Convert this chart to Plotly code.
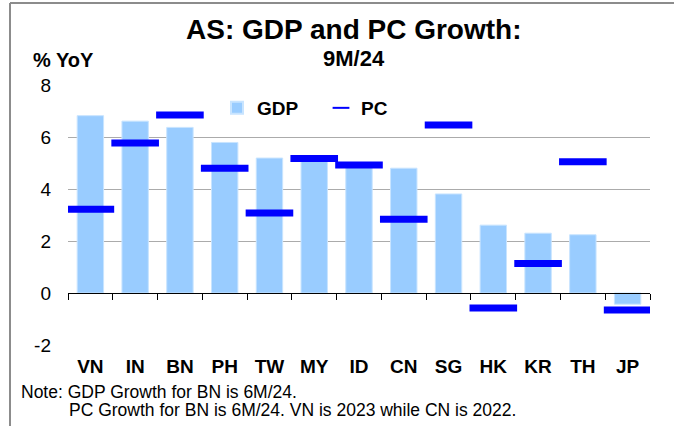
import plotly.graph_objects as go

categories = ["VN", "IN", "BN", "PH", "TW", "MY", "ID", "CN", "SG", "HK", "KR", "TH", "JP"]
gdp_growth = [6.82, 6.61, 6.37, 5.79, 5.19, 5.10, 4.85, 4.80, 3.81, 2.61, 2.30, 2.24, -0.43]
pc_growth = [3.22, 5.77, 6.85, 4.80, 3.08, 5.17, 4.92, 2.84, 6.46, -0.58, 1.13, 5.05, -0.65]
y_ticks = [-2, 0, 2, 4, 6, 8]

FONT = "Liberation Sans, Arial, sans-serif"
W, H = 674, 426
L, R, T, B = 68, 24, 85, 81
pw, ph = W - L - R, H - T - B

def px(x):
    return (x - L) / pw

def py(y):
    return (H - B - y) / ph

idx = list(range(len(categories)))

fig = go.Figure()
fig.add_trace(go.Bar(
    x=idx, y=gdp_growth, name="GDP", width=0.59,
    marker=dict(color="#99CCFF", line=dict(color="#C8E4FF", width=1)),
))
fig.add_trace(go.Scatter(
    x=idx, y=pc_growth, name="PC", mode="markers",
    marker=dict(symbol="line-ew", size=34, color="#0000FF",
                line=dict(color="#0000FF", width=7)),
))
# invisible trace so the zero-line axis (ticks at category boundaries) is drawn
fig.add_trace(go.Scatter(x=[0], y=[0], xaxis="x2", yaxis="y", mode="markers",
                         marker=dict(opacity=0), showlegend=False, hoverinfo="skip"))

zero_pos = (0 - (-2)) / 10.0

fig.update_layout(
    width=W, height=H,
    margin=dict(l=L, r=R, t=T, b=B),
    paper_bgcolor="white", plot_bgcolor="white",
    font=dict(family=FONT, color="black", size=19),
    showlegend=True,
    legend=dict(orientation="h", x=px(217), y=py(89), xanchor="left", yanchor="top",
                font=dict(family=FONT, size=19, color="black", weight="bold"),
                itemwidth=30, itemsizing="constant", bgcolor="rgba(0,0,0,0)",
                traceorder="normal", entrywidth=59, entrywidthmode="pixels"),
    xaxis=dict(range=[-0.5, 12.5], tickmode="array", tickvals=idx, ticktext=categories,
               showgrid=False, zeroline=False, showline=False, ticks="",
               tickfont=dict(family=FONT, size=19, color="black", weight="bold"),
               ticklabelstandoff=8),
    xaxis2=dict(range=[-0.5, 12.5], overlaying="x", anchor="free", position=zero_pos,
                side="bottom", tickmode="array", tickvals=[i - 0.5 for i in range(14)],
                ticks="outside", ticklen=6, tickcolor="black", tickwidth=1,
                showticklabels=False, showline=True, linecolor="black", linewidth=1,
                showgrid=False, zeroline=False),
    yaxis=dict(range=[-2, 8], tickmode="array", tickvals=y_ticks,
               ticktext=[str(v) for v in y_ticks],
               showgrid=True, gridcolor="#ABABAB", gridwidth=1,
               zeroline=False, showline=False, ticks="",
               tickfont=dict(family=FONT, size=19, color="black"),
               ticklabelstandoff=16),
    bargap=0.4,
    shapes=[
        dict(type="line", xref="paper", yref="paper", x0=px(10), x1=px(690), y0=py(3), y1=py(3),
             line=dict(color="#8C8C8C", width=2)),
        dict(type="line", xref="paper", yref="paper", x0=px(10), x1=px(10), y0=py(3), y1=py(440),
             line=dict(color="#8C8C8C", width=2)),
    ],
    annotations=[
        dict(text="<b>AS: GDP and PC Growth:</b>", xref="paper", yref="paper",
             x=px(354), y=py(29), xanchor="center", yanchor="middle", showarrow=False,
             font=dict(family=FONT, size=28, color="black")),
        dict(text="<b>9M/24</b>", xref="paper", yref="paper",
             x=px(354), y=py(59), xanchor="center", yanchor="middle", showarrow=False,
             font=dict(family=FONT, size=22, color="black")),
        dict(text="<b>% YoY</b>", xref="paper", yref="paper",
             x=px(31), y=py(60), xanchor="left", yanchor="middle", showarrow=False,
             font=dict(family=FONT, size=20, color="black")),
        dict(text="Note: GDP Growth for BN is 6M/24.", xref="paper", yref="paper",
             x=px(19), y=py(392), xanchor="left", yanchor="middle", showarrow=False,
             font=dict(family=FONT, size=17.5, color="black")),
        dict(text="PC Growth for BN is 6M/24. VN is 2023 while CN is 2022.", xref="paper", yref="paper",
             x=px(67), y=py(410), xanchor="left", yanchor="middle", showarrow=False,
             font=dict(family=FONT, size=17.5, color="black")),
    ],
)

fig.write_html("out.html", config={"displayModeBar": False},
               post_script="document.body.style.margin='0';")
